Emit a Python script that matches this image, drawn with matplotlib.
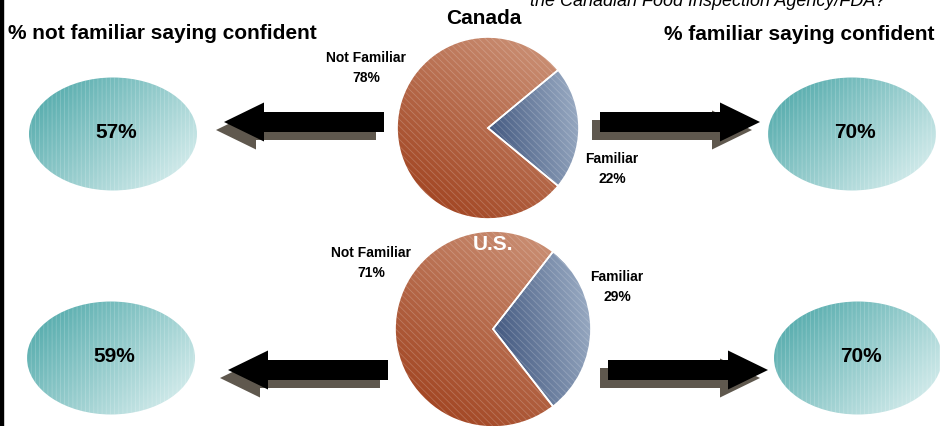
import numpy as np
import matplotlib
matplotlib.use("Agg")
import matplotlib.pyplot as plt
from matplotlib.colors import LinearSegmentedColormap
from matplotlib.patches import Ellipse, FancyArrow, PathPatch, Rectangle

plt.rcParams["font.family"] = ["Liberation Sans", "DejaVu Sans"]
plt.rcParams["hatch.linewidth"] = 0.6

countries = ["Canada", "U.S."]
familiar_pct = [22, 29]
not_familiar_pct = [78, 71]
confident_not_familiar = [57, 59]
confident_familiar = [70, 70]

W, H = 940, 427

# pixel layout of each row (y measured from the top)
pie_centers = [(488, 129), (493, 330)]
pie_radii = [91, 98]
ellipse_left = [(113, 135), (111, 359)]
ellipse_right = [(852, 135), (858, 359)]
ellipse_size = (168, 113)
arrow_y = [123, 371]
arrow_left = [(384, 224), (388, 228)]
arrow_right = [(600, 760), (608, 768)]
country_pos = [(484, 19), (493, 245)]
country_color = ["black", "white"]
nf_label_pos = [(366, 58), (371, 253)]
f_label_pos = [(612, 159), (617, 277)]

NOT_FAM = ("#d09a80", "#9c3a16")
FAM = ("#a4b5cb", "#354b75")
TEAL = ("#46a4a5", "#e4f4f4")
SHADOW = "#5f584e"


def fy(y):
    return H - y


def gradient_fill(ax, patch, bounds, c_start, c_end, angle, hatch, zorder=1):
    # linear gradient along `angle` (degrees), clipped to the patch outline
    x0, y0, x1, y1 = bounds
    g = np.linspace(0, 1, 200)
    gx, gy = np.meshgrid(g, g)
    a = np.deg2rad(angle)
    t = (gx - 0.5) * np.cos(a) + (gy - 0.5) * np.sin(a)
    t = (t - t.min()) / (t.max() - t.min())
    cmap = LinearSegmentedColormap.from_list("g", [c_start, c_end])
    im = ax.imshow(t, cmap=cmap, extent=(x0, x1, y0, y1), origin="lower",
                   interpolation="bilinear", zorder=zorder, aspect="auto")
    im.set_clip_path(patch)
    path = patch.get_path().transformed(patch.get_patch_transform())
    ax.add_patch(PathPatch(path, facecolor="none", edgecolor=(1, 1, 1, 0.2),
                           linewidth=0, hatch=hatch, zorder=zorder + 0.1))


def draw_arrow(ax, x_tail, x_tip, y):
    dx = x_tip - x_tail
    for off, color, z in [(-8, SHADOW, 3), (0, "black", 4)]:
        ax.add_patch(FancyArrow(x_tail + off, fy(y) + off, dx, 0, width=20,
                                head_width=39, head_length=40,
                                length_includes_head=True, color=color,
                                linewidth=0, zorder=z))


fig = plt.figure(figsize=(W / 100, H / 100), dpi=100)
ax = fig.add_axes([0, 0, 1, 1])

for i in range(len(countries)):
    cx, cy = pie_centers[i]
    r = pie_radii[i]
    wedges, _ = ax.pie([familiar_pct[i], not_familiar_pct[i]],
                       startangle=-familiar_pct[i] / 100 * 180,
                       center=(cx, fy(cy)), radius=r,
                       counterclock=True, frame=True,
                       wedgeprops=dict(facecolor="none", edgecolor="white",
                                       linewidth=1.2, zorder=2))
    box = (cx - r, fy(cy) - r, cx + r, fy(cy) + r)
    fam_box = (cx, fy(cy) - r, cx + r, fy(cy) + r)
    gradient_fill(ax, wedges[0], fam_box, FAM[0], FAM[1], 200, "\\\\\\\\\\")
    gradient_fill(ax, wedges[1], box, NOT_FAM[0], NOT_FAM[1], 235, "\\\\\\\\\\")

    ax.text(country_pos[i][0], fy(country_pos[i][1]), countries[i],
            ha="center", va="center", fontsize=15, fontweight="bold",
            color=country_color[i], zorder=5)

    x, y = nf_label_pos[i]
    ax.text(x, fy(y), "Not Familiar", ha="center", va="center",
            fontsize=10, fontweight="bold")
    ax.text(x, fy(y + 20), f"{not_familiar_pct[i]}%", ha="center",
            va="center", fontsize=10, fontweight="bold")
    x, y = f_label_pos[i]
    ax.text(x, fy(y), "Familiar", ha="center", va="center",
            fontsize=10, fontweight="bold")
    ax.text(x, fy(y + 20), f"{familiar_pct[i]}%", ha="center",
            va="center", fontsize=10, fontweight="bold")

    ew, eh = ellipse_size
    for (ex, ey), val in [(ellipse_left[i], confident_not_familiar[i]),
                          (ellipse_right[i], confident_familiar[i])]:
        ell = Ellipse((ex, fy(ey)), ew, eh, facecolor="none",
                      edgecolor="none", zorder=2)
        ax.add_patch(ell)
        ebox = (ex - ew / 2 - 1, fy(ey) - eh / 2 - 1,
                ex + ew / 2 + 1, fy(ey) + eh / 2 + 1)
        gradient_fill(ax, ell, ebox, TEAL[0], TEAL[1], -35, "||||")
        ax.text(ex + 3, fy(ey - 2), f"{val}%", ha="center", va="center",
                fontsize=15, fontweight="bold", zorder=5)

    draw_arrow(ax, arrow_left[i][0], arrow_left[i][1], arrow_y[i])
    draw_arrow(ax, arrow_right[i][0], arrow_right[i][1], arrow_y[i])

ax.text(8, fy(39), "% not familiar saying confident", ha="left",
        va="baseline", fontsize=15, fontweight="bold")
ax.text(935, fy(40), "% familiar saying confident", ha="right",
        va="baseline", fontsize=15, fontweight="bold")
ax.text(530, fy(6), "the Canadian Food Inspection Agency/FDA?", ha="left",
        va="baseline", fontsize=13, fontstyle="italic")

ax.add_patch(Rectangle((0, 0), 3, H, color="black", zorder=6))

ax.set_xlim(0, W)
ax.set_ylim(0, H)
ax.set_aspect("auto")
ax.axis("off")

fig.savefig("out.png", dpi=100, facecolor="white")
